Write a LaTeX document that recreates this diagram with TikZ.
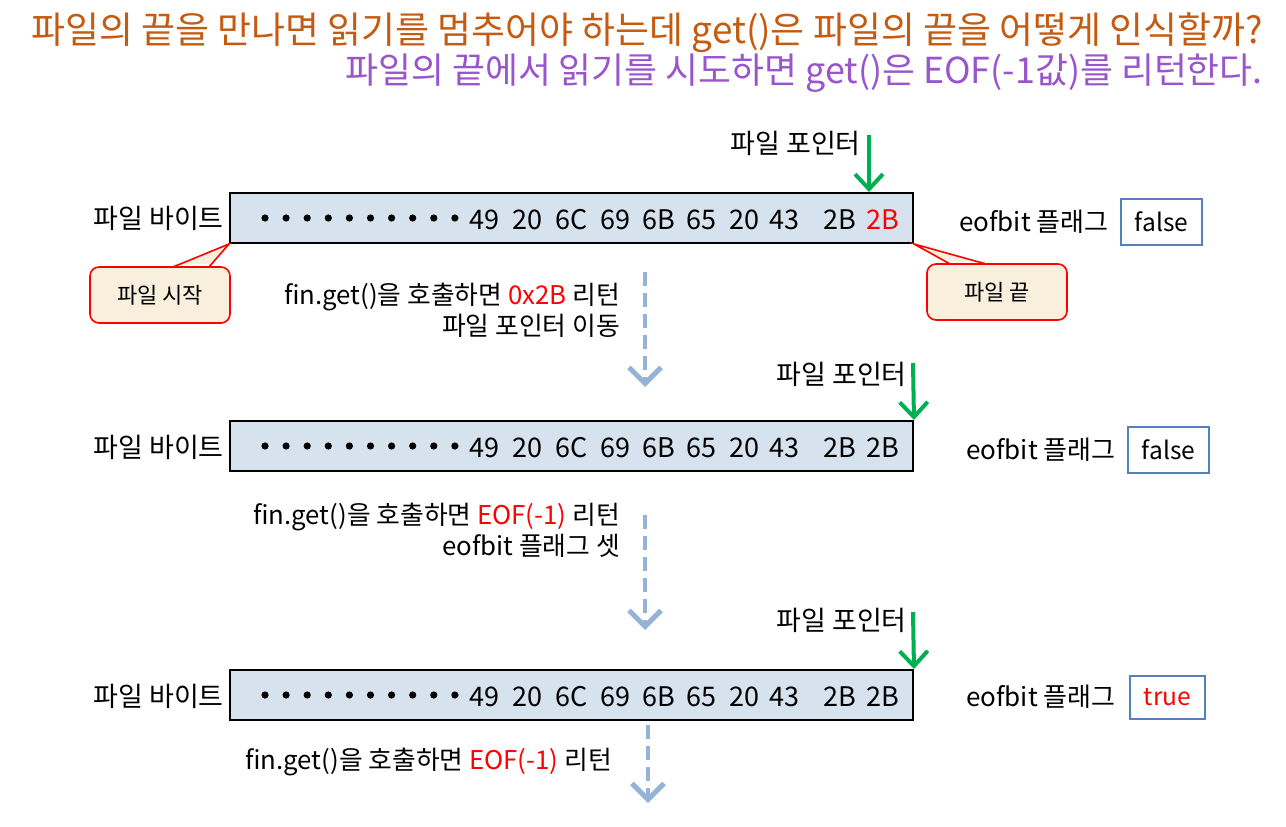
\documentclass[tikz,border=0pt]{standalone}
\usepackage{fontspec}
\setmainfont{Noto Sans CJK KR}
\usetikzlibrary{arrows.meta}
\definecolor{titleA}{RGB}{197,90,17}
\definecolor{titleB}{RGB}{153,85,204}
\definecolor{boxfill}{RGB}{214,226,237}
\definecolor{callfill}{RGB}{248,239,220}
\definecolor{ptrgreen}{RGB}{0,176,80}
\definecolor{dashblue}{RGB}{149,179,215}
\definecolor{flagblue}{RGB}{84,130,185}
\begin{document}
\begin{tikzpicture}[x=1pt,y=-1pt,
  lbl/.style={inner sep=0pt,font=\fontsize{27}{31}\selectfont},
  steptxt/.style={inner sep=0pt,font=\fontsize{25.8}{30}\selectfont},
  flaglbl/.style={inner sep=0pt,font=\fontsize{26}{30}\selectfont},
  ttl/.style={inner sep=0pt,font=\fontsize{35.8}{42}\selectfont},
  bytebox/.style={draw=black,line width=2pt,fill=boxfill,minimum width=683pt,minimum height=50pt,inner sep=0pt},
  bytetxt/.style={inner sep=0pt,font=\fontsize{27}{31}\selectfont},
  flagbox/.style={draw=flagblue,line width=1.6pt,fill=white,inner sep=0pt,font=\fontsize{24.5}{28}\selectfont},
  callbox/.style={draw=red,line width=1.6pt,fill=callfill,rounded corners=9pt,inner sep=0pt,minimum width=140pt,minimum height=56pt,font=\fontsize{22}{26}\selectfont},
  greenarrow/.style={draw=ptrgreen,line width=4pt,-{Straight Barb[length=15pt,width=28pt,line width=4pt]}},
  dasharrow/.style={draw=dashblue,line width=4.5pt,dash pattern=on 14pt off 7pt,-{Straight Barb[length=16pt,width=32pt,line width=5pt]}}
]
\useasboundingbox (0,0) rectangle (1286,827);

% titles
\node[ttl,anchor=east,text=titleA,font=\fontsize{36.9}{42}\selectfont] (t1) at (1263,33) {파일의 끝을 만나면 읽기를 멈추어야 하는데 get()은 파일의 끝을 어떻게 인식할까?};
\node[ttl,anchor=east,text=titleB] (t2) at (1263,73) {파일의 끝에서 읽기를 시도하면 get()은 EOF(-1값)를 리턴한다.};

% ---------- row 1
\node[bytebox] (b1) at (571.5,218) {};
\node[lbl,anchor=east] (l1) at (224,218) {파일 바이트};
\foreach \i in {0,...,9} \fill ({265+21.1*\i},218) circle (3.6);
\foreach \x/\t [count=\k] in {484/49,527/20,572/6C,615/69,659/6B,701/65,744/20,784/43,840/2B}
  \node[bytetxt] (r1n\k) at (\x,220) {\t};
\node[bytetxt,text=red] (r1n10) at (883,220) {2B};
\node[lbl,anchor=east] (p1) at (861,143) {파일 포인터};
\coordinate (g1s) at (869,135);
\draw[greenarrow] (g1s) -- (g1s |- b1.north);
\node[flaglbl,anchor=west] (e1) at (959,222) {eofbit 플래그};
\node[flagbox,minimum width=81pt,minimum height=46pt] (f1) at (1161.5,222) {false};

% callouts
\node[callbox] (c1) at (160,295) {파일 시작};
\coordinate (c1a) at (173,267);
\coordinate (c1b) at (209,267);
\fill[callfill] ([yshift=3]c1a) -- (c1a) -- (b1.south west) -- (c1b) -- ([yshift=3]c1b) -- cycle;
\draw[red,line width=1.6pt,line join=miter] (c1a) -- (b1.south west) -- (c1b);
\node[callbox] (c2) at (997,292) {파일 끝};
\coordinate (c2a) at (950,264);
\coordinate (c2b) at (986,264);
\fill[callfill] ([yshift=3]c2a) -- (c2a) -- (b1.south east) -- (c2b) -- ([yshift=3]c2b) -- cycle;
\draw[red,line width=1.6pt,line join=miter] (c2a) -- (b1.south east) -- (c2b);

% step 1
\node[steptxt,anchor=east] (s1a) at (620,297) {fin.get()을 호출하면 \textcolor{red}{0x2B} 리턴};
\node[steptxt,anchor=east] (s1b) at (620,326) {파일 포인터 이동};
\coordinate (d1s) at (645,272);
\coordinate (d1e) at (645,387);
\draw[dasharrow] (d1s) -- (d1e);

% ---------- row 2
\node[bytebox] (b2) at (571.5,446) {};
\node[lbl,anchor=east] (l2) at (224,447) {파일 바이트};
\foreach \i in {0,...,9} \fill ({265+21.1*\i},446) circle (3.6);
\foreach \x/\t [count=\k] in {484/49,527/20,572/6C,615/69,659/6B,701/65,744/20,784/43,840/2B,883/2B}
  \node[bytetxt] (r2n\k) at (\x,448) {\t};
\node[lbl,anchor=east] (p2) at (907,374) {파일 포인터};
\coordinate (g2s) at (913,363);
\draw[greenarrow] (g2s) -- (b2.north east);
\node[flaglbl,anchor=west] (e2) at (966,450) {eofbit 플래그};
\node[flagbox,minimum width=81pt,minimum height=46pt] (f2) at (1168.5,450) {false};

% step 2
\node[steptxt,anchor=east] (s2a) at (620,517) {fin.get()을 호출하면 \textcolor{red}{EOF(-1)} 리턴};
\node[steptxt,anchor=east] (s2b) at (620,546) {eofbit 플래그 셋};
\coordinate (d2s) at (645,515);
\coordinate (d2e) at (645,630);
\draw[dasharrow] (d2s) -- (d2e);

% ---------- row 3
\node[bytebox] (b3) at (571.5,695) {};
\node[lbl,anchor=east] (l3) at (224,696) {파일 바이트};
\foreach \i in {0,...,9} \fill ({265+21.1*\i},695) circle (3.6);
\foreach \x/\t [count=\k] in {484/49,527/20,572/6C,615/69,659/6B,701/65,744/20,784/43,840/2B,883/2B}
  \node[bytetxt] (r3n\k) at (\x,697) {\t};
\node[lbl,anchor=east] (p3) at (907,620) {파일 포인터};
\coordinate (g3s) at (913,612);
\draw[greenarrow] (g3s) -- (b3.north east);
\node[flaglbl,anchor=west] (e3) at (966,697) {eofbit 플래그};
\node[flagbox,minimum width=75pt,minimum height=43pt,text=red] (f3) at (1167.5,697.5) {true};

% step 3
\node[steptxt,anchor=east] (s3a) at (612,762) {fin.get()을 호출하면 \textcolor{red}{EOF(-1)} 리턴};
\coordinate (d3s) at (648,725);
\coordinate (d3e) at (648,803);
\draw[dasharrow] (d3s) -- (d3e);
\end{tikzpicture}
\end{document}
